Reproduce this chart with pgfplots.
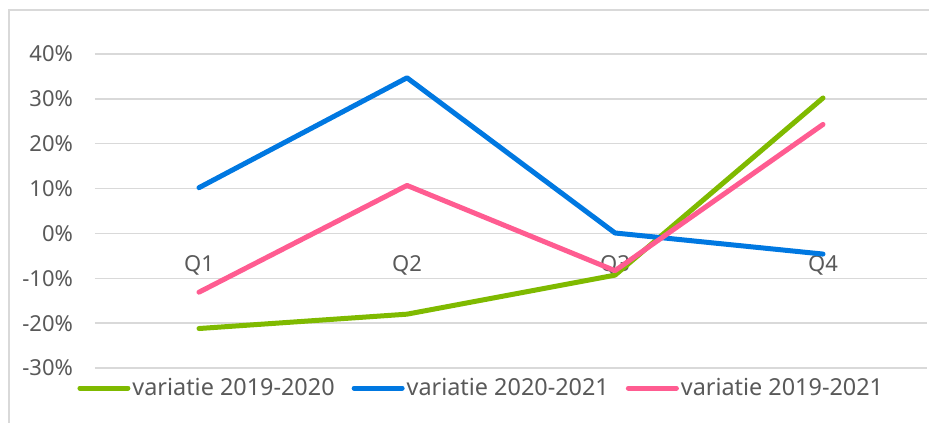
\documentclass[border=0pt]{standalone}
\usepackage{fontspec}
\setmainfont{Noto Sans}
\usepackage{pgfplots}
\pgfplotsset{compat=1.18}
\definecolor{gridgray}{RGB}{217,217,217}
\definecolor{labgray}{RGB}{89,89,89}
\definecolor{cgreen}{RGB}{127,186,0}
\definecolor{cblue}{RGB}{0,120,225}
\definecolor{cpink}{RGB}{255,92,145}
\begin{document}
\begin{tikzpicture}
\useasboundingbox (-47.5pt,-27pt) rectangle (417pt,184pt);
\draw[gridgray, line width=0.9pt] (-43pt,-40pt) -- (-43pt,179pt) -- (430pt,179pt);
\begin{axis}[
  scale only axis, width=416pt, height=157pt,
  xmin=-0.5, xmax=3.5, ymin=-30, ymax=40,
  ytick={-30,-20,-10,0,10,20,30,40},
  yticklabels={-30\%,-20\%,-10\%,0\%,10\%,20\%,30\%,40\%},
  xtick={0,1,2,3}, xticklabels={Q1,Q2,Q3,Q4},
  axis x line=middle, axis y line=left,
  x axis line style={draw=gridgray, line width=0.75pt, -},
  y axis line style={draw=none},
  major tick length=0pt,
  ymajorgrids, grid style={gridgray, line width=0.75pt},
  tick label style={text=labgray, font=\fontsize{11}{13}\selectfont},
  yticklabel style={xshift=-7.5pt},
  xticklabel style={anchor=center, yshift=-16pt},
  clip=false,
  legend columns=3,
  legend style={at={(-0.0216,-0.0637)}, anchor=west, draw=none, fill=none,
    inner sep=0pt, font=\fontsize{11.7}{13}\selectfont, text=labgray,
    nodes={inner sep=1pt},
    /tikz/every even column/.append style={column sep=7.5pt}},
  legend image code/.code={\draw[#1, line width=2.5pt, line cap=round] (1.25pt,0pt) -- (25.25pt,0pt);},
]
\addplot[cgreen, line width=2.5pt, line join=round, line cap=round] coordinates {(0,-21.2) (1,-18.0) (2,-9.3) (3,30.2)};
\addlegendentry{variatie 2019-2020}
\addplot[cblue, line width=2.5pt, line join=round, line cap=round] coordinates {(0,10.2) (1,34.7) (2,0.1) (3,-4.6)};
\addlegendentry{variatie 2020-2021}
\addplot[cpink, line width=2.5pt, line join=round, line cap=round] coordinates {(0,-13.1) (1,10.7) (2,-8.3) (3,24.3)};
\addlegendentry{variatie 2019-2021}
\end{axis}
\end{tikzpicture}
\end{document}
